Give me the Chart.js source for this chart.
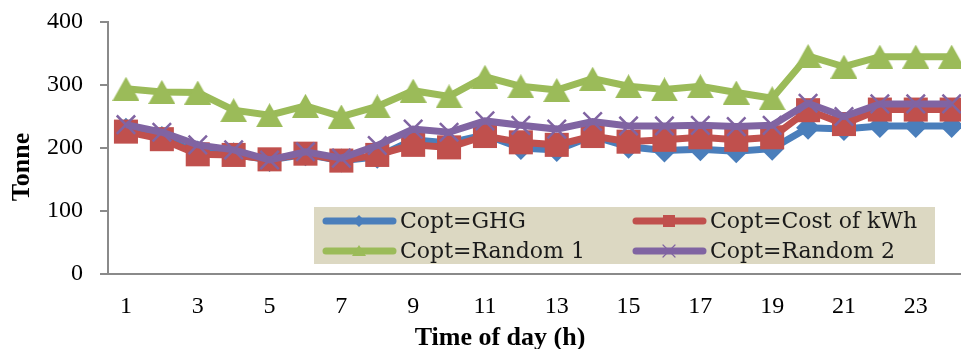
<!DOCTYPE html>
<html lang="en">
<head>
<meta charset="UTF-8">
<title>Tonne by time of day</title>
<style>
  body { margin: 0; background: #fff; overflow: hidden; }
</style>
</head>
<body>
<canvas id="myChart" width="961" height="349"></canvas>
<script src="https://cdn.jsdelivr.net/npm/chart.js"></script>
<script>
  // hours of the day and the odd ones shown on the axis
  const hours = [1, 2, 3, 4, 5, 6, 7, 8, 9, 10, 11, 12, 13, 14, 15, 16, 17, 18, 19, 20, 21, 22, 23, 24];
  const tickHours = [1, 3, 5, 7, 9, 11, 13, 15, 17, 19, 21, 23];
  const yTicks = [0, 100, 200, 300, 400];

  const seriesNames = ['Copt=GHG', 'Copt=Cost of kWh', 'Copt=Random 1', 'Copt=Random 2'];
  const ghg     = [229, 216, 193, 190, 181, 190, 180, 186, 213, 208, 221, 200, 197, 219, 202, 196, 198, 195, 199, 232, 230, 235, 235, 235];
  const costKwh = [226, 214, 190, 189, 182, 191, 180, 189, 205, 201, 219, 209, 205, 219, 210, 213, 217, 213, 217, 260, 238, 261, 261, 261];
  const random1 = [294, 289, 288, 260, 252, 267, 250, 266, 291, 282, 313, 298, 292, 310, 298, 293, 298, 288, 279, 346, 329, 345, 345, 345];
  const random2 = [237, 225, 205, 197, 181, 194, 184, 204, 230, 225, 243, 236, 230, 242, 235, 235, 236, 234, 236, 271, 250, 270, 270, 270];

  const xTitle = 'Time of day (h)';
  const yTitle = 'Tonne';

  const colors = ['#4a7ebb', '#c0504d', '#9bbb59', '#8064a2'];

  function pts(vals) {
    return hours.map((h, i) => ({ x: h, y: vals[i] }));
  }

  // triangle marker centred on its box (like the office charts)
  function triangle(color, w, h) {
    const c = document.createElement('canvas');
    c.width = w; c.height = h;
    const g = c.getContext('2d');
    g.fillStyle = color;
    g.beginPath();
    g.moveTo(w / 2, 0);
    g.lineTo(w, h);
    g.lineTo(0, h);
    g.closePath();
    g.fill();
    return c;
  }

  function mark(ctx, kind, x, y, color) {
    ctx.fillStyle = color;
    ctx.strokeStyle = color;
    ctx.beginPath();
    if (kind === 'diamond') {
      ctx.moveTo(x, y - 6); ctx.lineTo(x + 6, y); ctx.lineTo(x, y + 6); ctx.lineTo(x - 6, y);
      ctx.closePath(); ctx.fill();
    } else if (kind === 'square') {
      ctx.fillRect(x - 6, y - 6, 12, 12);
    } else if (kind === 'triangle') {
      ctx.moveTo(x, y - 6); ctx.lineTo(x + 7, y + 5); ctx.lineTo(x - 7, y + 5);
      ctx.closePath(); ctx.fill();
    } else {
      ctx.lineWidth = 1.2;
      ctx.moveTo(x - 6, y - 6); ctx.lineTo(x + 6, y + 6);
      ctx.moveTo(x + 6, y - 6); ctx.lineTo(x - 6, y + 6);
      ctx.stroke();
    }
  }

  const legendKinds = ['diamond', 'square', 'triangle', 'cross'];

  // legend sits inside the plot on a tan box, axis titles placed as in the original
  const legendBox = {
    id: 'legendBox',
    afterDraw(chart) {
      const ctx = chart.ctx;
      ctx.save();
      ctx.fillStyle = '#dcd8c2';
      ctx.fillRect(314, 207, 621, 57);
      chart.data.datasets.forEach((ds, i) => {
        const x = i % 2 ? 633 : 323;
        const y = i < 2 ? 221 : 251;
        ctx.strokeStyle = ds.borderColor;
        ctx.lineWidth = 7;
        ctx.lineCap = 'round';
        ctx.beginPath();
        ctx.moveTo(x + 3, y);
        ctx.lineTo(x + 70, y);
        ctx.stroke();
        mark(ctx, legendKinds[i], x + 36, y, ds.borderColor);
        ctx.fillStyle = '#1a1a1a';
        ctx.font = '22px "DejaVu Serif"';
        ctx.textBaseline = 'middle';
        ctx.textAlign = 'left';
        ctx.fillText(ds.label, x + 77, y + 1);
      });

      ctx.fillStyle = '#000';
      ctx.font = 'bold 26px "Liberation Serif"';
      ctx.textAlign = 'center';
      ctx.textBaseline = 'middle';
      ctx.fillText(xTitle, 500, 338);
      ctx.translate(22, 167);
      ctx.rotate(-Math.PI / 2);
      ctx.fillText(yTitle, 0, 0);
      ctx.restore();
    }
  };

  const datasets = [
    {
      label: seriesNames[0], data: pts(ghg), order: 4,
      borderColor: colors[0], backgroundColor: colors[0], borderWidth: 7,
      pointStyle: 'rectRot', pointRadius: 12, pointBorderWidth: 0,
    },
    {
      label: seriesNames[1], data: pts(costKwh), order: 3,
      borderColor: colors[1], backgroundColor: colors[1], borderWidth: 7,
      pointStyle: 'rect', pointRadius: 17, pointBorderWidth: 0,
    },
    {
      label: seriesNames[2], data: pts(random1), order: 2,
      borderColor: colors[2], backgroundColor: colors[2], borderWidth: 7,
      pointStyle: triangle(colors[2], 27, 24), pointRadius: 13,
    },
    {
      label: seriesNames[3], data: pts(random2), order: 1,
      borderColor: colors[3], backgroundColor: colors[3], borderWidth: 7,
      pointStyle: 'crossRot', pointRadius: 13, pointBorderWidth: 2.5,
    },
  ];

  const axisGray = '#8a8a8a';

  const chart = new Chart(document.getElementById('myChart'), {
    type: 'line',
    data: { datasets: datasets },
    options: {
      responsive: false,
      animation: false,
      layout: { autoPadding: false, padding: { top: 22, right: 0, bottom: 0, left: 0 } },
      plugins: {
        legend: { display: false },
        tooltip: { enabled: false },
      },
      scales: {
        x: {
          type: 'linear',
          min: 0.5,
          max: 24.26,
          afterBuildTicks: (s) => { s.ticks = tickHours.map(v => ({ value: v })); },
          afterFit: (s) => { s.height = 75; s.paddingLeft = 0; s.paddingRight = 0; },
          grid: { display: false, drawTicks: false },
          border: { display: true, color: axisGray, width: 2 },
          ticks: {
            padding: 18,
            color: '#000',
            font: { family: '"Liberation Serif"', size: 24 },
            maxRotation: 0,
          },
        },
        y: {
          min: 0,
          max: 400,
          afterBuildTicks: (s) => { s.ticks = yTicks.map(v => ({ value: v })); },
          afterFit: (s) => { s.width = 108; s.paddingTop = 0; s.paddingBottom = 0; },
          grid: { drawOnChartArea: false, drawTicks: true, tickLength: 8, color: axisGray, lineWidth: 2 },
          border: { display: true, color: axisGray, width: 2 },
          ticks: {
            padding: 17,
            color: '#000',
            font: { family: '"Liberation Serif"', size: 24 },
          },
        },
      },
    },
    plugins: [legendBox],
  });
</script>
</body>
</html>
